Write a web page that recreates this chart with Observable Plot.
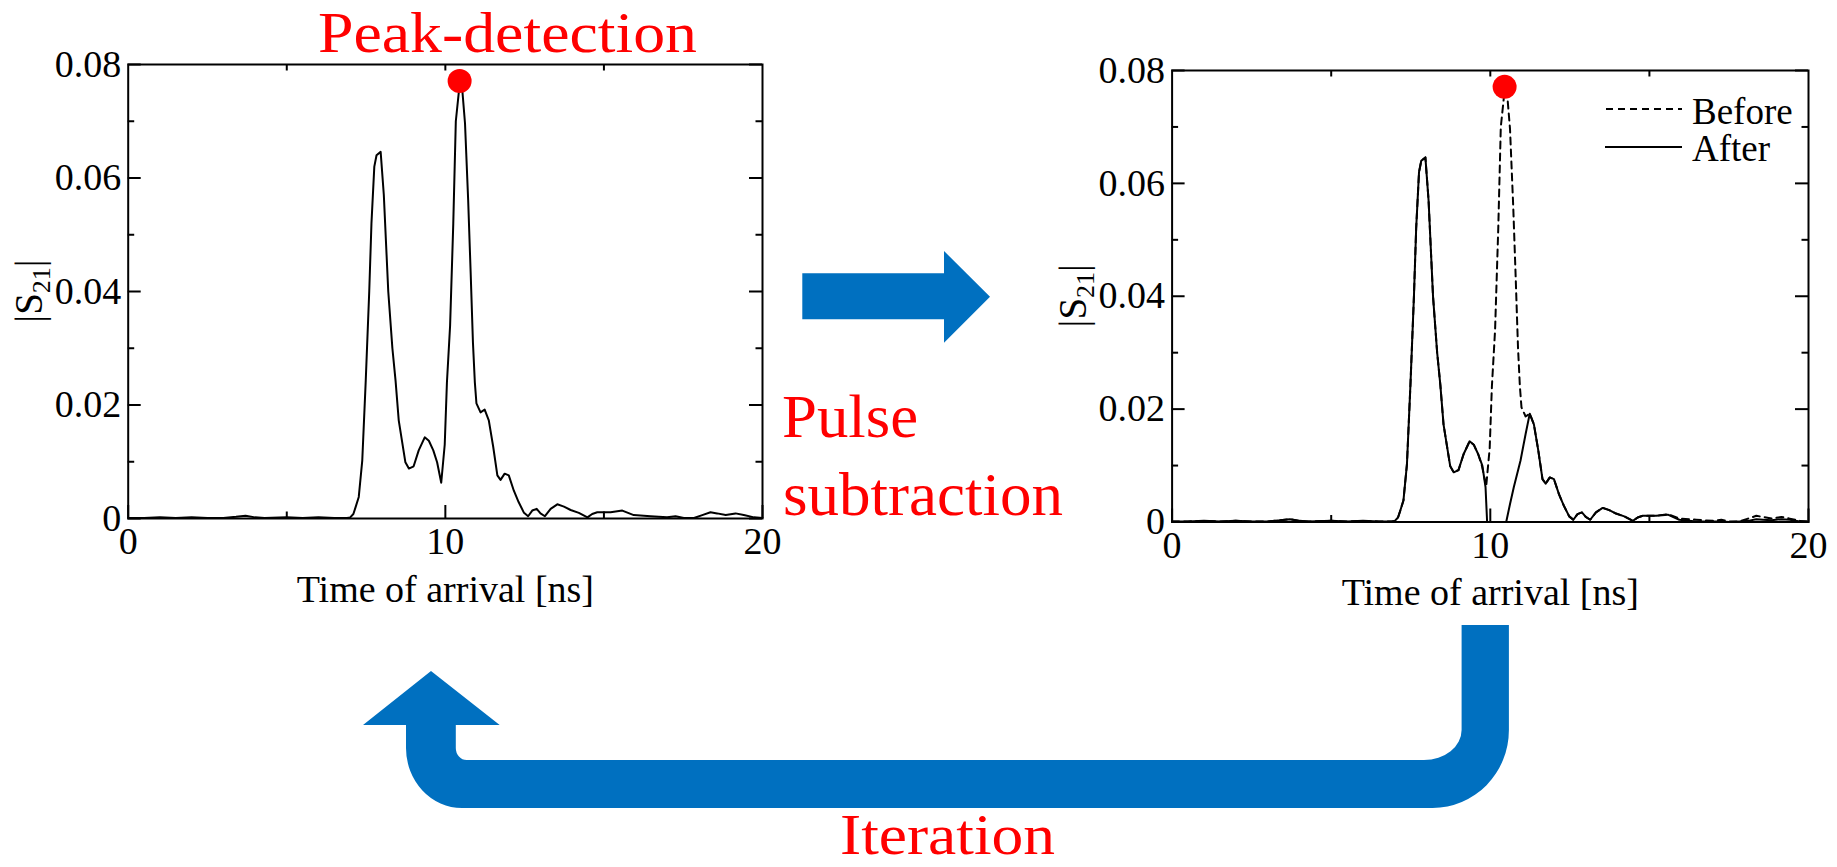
<!DOCTYPE html>
<html>
<head>
<meta charset="utf-8">
<script src="https://cdn.jsdelivr.net/npm/d3@7"></script>
<script src="https://cdn.jsdelivr.net/npm/@observablehq/plot@0.6"></script>
<style>
html, body { margin: 0; padding: 0; background: #fff; }
body { width: 1837px; height: 867px; position: relative; overflow: hidden; font-family: "Liberation Serif", "Times New Roman", serif; }
#left { position: absolute; left: 0; top: 0; width: 800px; height: 640px; }
#right { position: absolute; left: 1000px; top: 0; width: 837px; height: 640px; }
#overlay { position: absolute; left: 0; top: 0; }
</style>
</head>
<body>
<div id="left"></div>
<div id="right"></div>
<svg id="overlay" width="1837" height="867"></svg>
<script>
// ---------------- data ----------------
const xMajorTicks = [0, 10, 20];
const xMinorTicks = [5, 15];
const xTopTicks = [5, 10, 15];
const yMajorTicks = [0, 0.02, 0.04, 0.06, 0.08];
const yMinorTicks = [0.01, 0.03, 0.05, 0.07];

const xAxisTitle = "Time of arrival [ns]";
const yAxisMain = "S";
const yAxisSub = "21";
const legendLabels = ["Before", "After"];
const stepLabels = ["Peak-detection", "Pulse", "subtraction", "Iteration"];

// |S21| before pulse subtraction: [time ns, magnitude]
const beforePulse = [
  [0, 0.0001], [0.5, 0.0001], [1, 0.0002], [1.5, 0.0001], [2, 0.0002], [2.5, 0.0001],
  [3, 0.0001], [3.4, 0.0003], [3.7, 0.0005], [4.0, 0.0002], [4.3, 0.0001], [5, 0.0002],
  [5.5, 0.0001], [6, 0.0002], [6.5, 0.0001], [6.9, 0.0001], [7.0, 0.0002], [7.1, 0.0008],
  [7.17, 0.002], [7.27, 0.0038], [7.38, 0.0102], [7.49, 0.0243], [7.6, 0.04], [7.67, 0.052],
  [7.76, 0.062], [7.83, 0.064], [7.96, 0.0646], [8.06, 0.057], [8.2, 0.04], [8.33, 0.03],
  [8.43, 0.0243], [8.53, 0.0173], [8.64, 0.0134], [8.74, 0.0099], [8.85, 0.0088], [9.0, 0.0092],
  [9.16, 0.012], [9.35, 0.0143], [9.48, 0.0137], [9.62, 0.012], [9.74, 0.0099], [9.87, 0.0063],
  [9.98, 0.013], [10.05, 0.024], [10.15, 0.034], [10.25, 0.052], [10.33, 0.07], [10.45, 0.0765],
  [10.52, 0.0765], [10.62, 0.0696], [10.72, 0.056], [10.8, 0.043], [10.87, 0.031], [10.93, 0.024],
  [10.98, 0.0203], [11.11, 0.0187], [11.24, 0.0192], [11.37, 0.0173], [11.51, 0.0126], [11.64, 0.0076],
  [11.74, 0.0068], [11.87, 0.0079], [12.0, 0.0076], [12.16, 0.0049], [12.31, 0.0029], [12.48, 0.001],
  [12.61, 0.0004], [12.74, 0.0014], [12.88, 0.0017], [13.0, 0.0009], [13.14, 0.0004], [13.32, 0.0017],
  [13.53, 0.0025], [13.74, 0.0021], [13.95, 0.0015], [14.21, 0.001], [14.48, 0.0002], [14.63, 0.0008],
  [14.79, 0.0011], [15.21, 0.0011], [15.58, 0.0014], [15.94, 0.0006], [16.47, 0.0004], [16.99, 0.0002],
  [17.26, 0.0004], [17.52, 0.0001], [17.84, 0.0001], [18.1, 0.0006], [18.36, 0.0011], [18.57, 0.0009],
  [18.84, 0.0006], [19.15, 0.0009], [19.41, 0.0006], [19.73, 0.0002], [20.0, 0.0001]
];

// |S21| after subtracting the detected pulse
const afterPulse = [
  [0, 0.0001], [0.5, 0.0001], [1, 0.0002], [1.5, 0.0001], [2, 0.0002], [2.5, 0.0001],
  [3, 0.0001], [3.4, 0.0003], [3.7, 0.0005], [4.0, 0.0002], [4.3, 0.0001], [5, 0.0002],
  [5.5, 0.0001], [6, 0.0002], [6.5, 0.0001], [6.9, 0.0001], [7.0, 0.0002], [7.1, 0.0008],
  [7.17, 0.002], [7.27, 0.0038], [7.38, 0.0102], [7.49, 0.0243], [7.6, 0.04], [7.67, 0.052],
  [7.76, 0.062], [7.83, 0.064], [7.96, 0.0646], [8.06, 0.057], [8.2, 0.04], [8.33, 0.03],
  [8.43, 0.0243], [8.53, 0.0173], [8.64, 0.0134], [8.74, 0.0099], [8.85, 0.0088], [9.0, 0.0092],
  [9.16, 0.012], [9.35, 0.0143], [9.48, 0.0137], [9.62, 0.012], [9.75, 0.0100], [9.85, 0.0062],
  [9.9, 0.0], [10.5, 0.0], [10.62, 0.0032], [10.74, 0.0062], [10.95, 0.0109], [11.11, 0.0156],
  [11.24, 0.0192], [11.37, 0.0173], [11.51, 0.0126], [11.64, 0.0076],
  [11.74, 0.0068], [11.87, 0.0079], [12.0, 0.0076], [12.16, 0.0049], [12.31, 0.0029], [12.48, 0.001],
  [12.61, 0.0004], [12.74, 0.0014], [12.88, 0.0017], [13.0, 0.0009], [13.14, 0.0004], [13.32, 0.0017],
  [13.53, 0.0025], [13.74, 0.0021], [13.95, 0.0015], [14.21, 0.001], [14.48, 0.0002], [14.63, 0.0008],
  [14.79, 0.0011], [15.21, 0.0011], [15.58, 0.0013], [15.94, 0.0004], [16.47, 0.0001], [16.99, 0.0001],
  [17.26, 0.0001], [17.52, 0.0], [17.84, 0.0001], [18.1, 0.0002], [18.36, 0.0005], [18.57, 0.0004],
  [18.84, 0.0003], [19.15, 0.0005], [19.41, 0.0004], [19.73, 0.0001], [20.0, 0.0]
];

// detected peak
const peakPoint = [10.45, 0.0771];

// ---------------- charts ----------------
const FONT = '"Liberation Serif", "Times New Roman", serif';
const yFmt = d => d === 0 ? "0" : d.toFixed(2);

function panel({width, height, ml, mr, mt, mb, lineMarks}) {
  const W = width - ml - mr, H = height - mt - mb;
  const tick = {stroke: "black", strokeWidth: 2};
  const node = Plot.plot({
    width, height,
    marginLeft: ml, marginRight: mr, marginTop: mt, marginBottom: mb,
    x: {domain: [0, 20]},
    y: {domain: [0, 0.08]},
    style: {fontFamily: FONT, fontSize: "38px", background: "transparent", color: "black", overflow: "visible"},
    marks: [
      Plot.tickX(xMajorTicks, {x: d => d, ...tick, insetTop: H - 13}),
      Plot.tickX(xMinorTicks, {x: d => d, ...tick, insetTop: H - 6.5}),
      Plot.tickX(xTopTicks, {x: d => d, ...tick, insetBottom: H - 6.5}),
      Plot.tickY(yMajorTicks, {y: d => d, ...tick, insetRight: W - 13}),
      Plot.tickY(yMinorTicks, {y: d => d, ...tick, insetRight: W - 6.5}),
      Plot.tickY(yMajorTicks, {y: d => d, ...tick, insetLeft: W - 13}),
      Plot.tickY(yMinorTicks, {y: d => d, ...tick, insetLeft: W - 6.5}),
      Plot.axisX({ticks: xMajorTicks, tickSize: 0, tickPadding: 9, tickFormat: d => String(d), fontSize: 38, label: null}),
      Plot.axisY({ticks: yMajorTicks, tickSize: 0, tickPadding: 7, tickFormat: yFmt, fontSize: 38, label: null}),
      Plot.text([xAxisTitle], {text: d => d, frameAnchor: "bottom", dy: 71, fontSize: 38, lineAnchor: "middle", fill: "black"}),
      ...lineMarks,
      Plot.frame({stroke: "black", strokeWidth: 2}),
      Plot.dot([peakPoint], {x: d => d[0], y: d => d[1], r: 12, fill: "#ff0000", stroke: "none"})
    ]
  });
  // y-axis title |S21| with subscript
  const t = d3.select(node).append("text")
    .attr("transform", `translate(${ml - 86},${mt + H / 2}) rotate(-90)`)
    .attr("text-anchor", "middle")
    .attr("font-family", FONT)
    .attr("font-size", 39)
    .attr("fill", "black");
  t.append("tspan").text("|" + yAxisMain);
  t.append("tspan").attr("font-size", 26).attr("dy", 8).text(yAxisSub);
  t.append("tspan").attr("font-size", 39).attr("dy", -8).text("|");
  return node;
}

const lineStyle = {x: d => d[0], y: d => d[1], stroke: "black", strokeWidth: 2, strokeLinejoin: "round"};

document.getElementById("left").append(panel({
  width: 800, height: 640, ml: 127.7, mr: 38, mt: 64, mb: 122,
  lineMarks: [Plot.line(beforePulse, lineStyle)]
}));

document.getElementById("right").append(panel({
  width: 837, height: 640, ml: 171.6, mr: 29, mt: 70, mb: 118.5,
  lineMarks: [
    Plot.line(beforePulse, {...lineStyle, strokeDasharray: "7,5"}),
    Plot.line(afterPulse, lineStyle)
  ]
}));

// ---------------- annotations (arrows, step labels, legend) ----------------
const ov = d3.select("#overlay");
const BLUE = "#0070c0";
ov.append("path").attr("fill", BLUE)
  .attr("d", "M802.3,273.3 L944,273.3 L944,251 L990,296.7 L944,342.7 L944,319.3 L802.3,319.3 Z");
ov.append("path").attr("fill", BLUE)
  .attr("d", "M1461.6,625 L1461.6,730 A37.6,30 0 0 1 1424,760 L466.6,760 A10.8,12 0 0 1 455.8,748 L455.8,725 L499.7,725 L431,671 L363,725 L406,725 L406,748 A56,60 0 0 0 462,808 L1432.6,808 A76.3,78 0 0 0 1508.9,730 L1508.9,625 Z");

const red = (txt, x, y, size, len) => {
  const el = ov.append("text").attr("x", x).attr("y", y)
    .attr("font-family", FONT).attr("font-size", size).attr("fill", "#ff0000").text(txt);
  if (len) el.attr("textLength", len).attr("lengthAdjust", "spacingAndGlyphs");
  return el;
};
red(stepLabels[0], 318, 52, 58, 379);
red(stepLabels[1], 782, 437, 62, 136);
red(stepLabels[2], 783, 515, 62, 280);
red(stepLabels[3], 840, 854, 58, 215);

// legend
ov.append("line").attr("x1", 1606).attr("x2", 1682).attr("y1", 109).attr("y2", 109)
  .attr("stroke", "black").attr("stroke-width", 2).attr("stroke-dasharray", "7,5");
ov.append("line").attr("x1", 1605).attr("x2", 1682).attr("y1", 147).attr("y2", 147)
  .attr("stroke", "black").attr("stroke-width", 2);
ov.append("text").attr("x", 1692).attr("y", 124).attr("font-family", FONT).attr("font-size", 37).text(legendLabels[0]);
ov.append("text").attr("x", 1692).attr("y", 161).attr("font-family", FONT).attr("font-size", 37).text(legendLabels[1]);
</script>
</body>
</html>
